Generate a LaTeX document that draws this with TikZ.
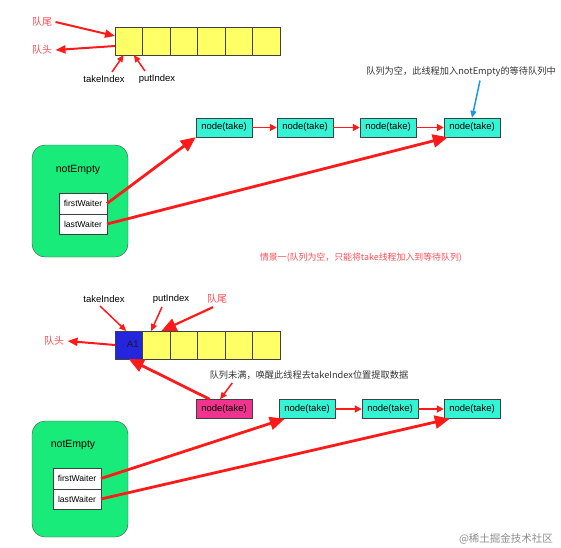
\documentclass[tikz,border=0pt]{standalone}
\usepackage{fontspec}
\setmainfont{Liberation Sans}
\newfontfamily\cjk{Noto Sans CJK SC}
\usetikzlibrary{arrows.meta,positioning}
\definecolor{QYellow}{HTML}{FFFF66}
\definecolor{QCyan}{HTML}{33F5D6}
\definecolor{QPink}{HTML}{F0338F}
\definecolor{QBlue}{HTML}{2525DD}
\definecolor{QGreen}{HTML}{19EB7A}
\definecolor{QRed}{HTML}{FF1A1A}
\definecolor{QLabel}{HTML}{FF4D55}
\definecolor{QSky}{HTML}{1E96F0}

\begin{document}
\begin{tikzpicture}[x=1pt,y=-1pt, every node/.style={font=\fontsize{9.5}{11}\selectfont},
  cell/.style={draw=black!75,fill=QYellow,minimum width=27.5pt,minimum height=28pt,inner sep=0pt,outer sep=0pt},
  takebox/.style={draw=black!75,fill=QCyan,minimum width=56pt,minimum height=19pt,inner sep=0pt},
  waiter/.style={draw=black!75,fill=white,minimum width=48pt,minimum height=20.5pt,inner sep=0pt,outer sep=0pt,font=\fontsize{8.6}{10}\selectfont},
  cond/.style={draw=black!70,fill=QGreen,rounded corners=13pt,minimum width=96pt,inner sep=0pt},
  qlabel/.style={text=QLabel,font=\cjk\fontsize{10}{12}\selectfont},
  note/.style={font=\cjk\fontsize{9.2}{11}\selectfont,text=black!80},
  link/.style={-{Triangle[length=7pt,width=7pt]},QRed,line width=1.8pt},
  bigarrow/.style={-{Triangle[length=15pt,width=13pt]},QRed,line width=2.8pt},
  pointer/.style={-{Triangle[length=7pt,width=6pt]},QRed,line width=1.5pt}]
\useasboundingbox (0,0) rectangle (561,547);

% scene one: empty queue
\node[cell] (c1) at (128.75,41) {};
\node[cell,right=0pt of c1] (c2) {};
\node[cell,right=0pt of c2] (c3) {};
\node[cell,right=0pt of c3] (c4) {};
\node[cell,right=0pt of c4] (c5) {};
\node[cell,right=0pt of c5] (c6) {};
\node[qlabel] (tail1) at (42,22) {队尾};
\node[qlabel] (head1) at (42,50) {队头};
\node (take1lbl) at (104,79) {takeIndex};
\node (put1lbl) at (157,79) {putIndex};
\draw[bigarrow,line width=2pt,-{Triangle[length=10pt,width=8pt]}] (tail1.east) -- (c1.160);
\draw[bigarrow,line width=2pt,-{Triangle[length=10pt,width=8pt]}] (c1.200) -- (head1.east);
\draw[pointer] ([xshift=8pt]take1lbl.north) -- (c1.250);
\draw[pointer] ([xshift=-12pt]put1lbl.north) -- (c1.290);

\node[takebox] (tk1) at (224,127.5) {node(take)};
\node[takebox] (tk2) at (305,127.5) {node(take)};
\node[takebox] (tk3) at (388,127.5) {node(take)};
\node[takebox] (tk4) at (472,127.5) {node(take)};
\draw[link] (tk1) -- (tk2);
\draw[link] (tk2) -- (tk3);
\draw[link] (tk3) -- (tk4);
\node[note] (note1) at (461,72) {队列为空，此线程加入notEmpty的等待队列中};
\draw[-{Triangle[length=7pt,width=6pt]},QSky,line width=1.5pt] ([xshift=19pt]note1.south) -- (tk4.north);

\node[cond,minimum height=112pt] (cond1) at (80,201) {};
\node[font=\fontsize{10.5}{12}\selectfont] (cond1lbl) at (78,170) {notEmpty};
\node[waiter] (fw1) at (83,203.5) {firstWaiter};
\node[waiter,below=0pt of fw1] (lw1) {lastWaiter};
\draw[bigarrow] (fw1.east) -- (tk1.south west);
\draw[bigarrow] (lw1.east) -- ([xshift=4pt]tk4.south west);

\node[text=QLabel,font=\cjk\fontsize{8.9}{10}\selectfont] (scene1) at (361,258) {情景一(队列为空，只能将take线程加入到等待队列)};

% scene two: queue not full
\node[cell,fill=QBlue] (d1) at (128.75,345) {\hspace*{8pt}\raisebox{1.5pt}{\textcolor{black!90}{A1}}};
\node[cell,right=0pt of d1] (d2) {};
\node[cell,right=0pt of d2] (d3) {};
\node[cell,right=0pt of d3] (d4) {};
\node[cell,right=0pt of d4] (d5) {};
\node[cell,right=0pt of d5] (d6) {};
\node (take2lbl) at (104,299) {takeIndex};
\node (put2lbl) at (171,299) {putIndex};
\node[qlabel] (tail2) at (217,299) {队尾};
\node[qlabel] (head2) at (54,341) {队头};
\draw[pointer] ([xshift=-4pt]take2lbl.south) -- (d1.100);
\draw[pointer] ([xshift=-9pt]put2lbl.south) -- (d2.110);
\draw[bigarrow,line width=2.2pt] ([xshift=-4pt]tail2.south) -- (d2.70);
\draw[bigarrow,line width=2pt,-{Triangle[length=10pt,width=8pt]}] (d1.west) -- (head2.east);

\node[takebox,fill=QPink] (pk) at (224,409) {node(take)};
\node[takebox] (tb2) at (307,409) {node(take)};
\node[takebox] (tb3) at (390,409) {node(take)};
\node[takebox] (tb4) at (472,409) {node(take)};
\draw[link] (tb2) -- (tb3);
\draw[link] (tb3) -- (tb4);
\node[note] (note2) at (309,375) {队列未满，唤醒此线程去takeIndex位置提取数据};
\draw[pointer] ([xshift=26pt]note2.south west) -- ([xshift=-4pt]pk.north);
\draw[bigarrow] ([xshift=14pt]pk.north west) -- (d1.south);

\node[cond,minimum height=116pt] (cond2) at (80,479) {};
\node[font=\fontsize{10.5}{12}\selectfont] (cond2lbl) at (73,445) {notEmpty};
\node[waiter] (fw2) at (77,478.5) {firstWaiter};
\node[waiter,below=0pt of fw2] (lw2) {lastWaiter};
\draw[bigarrow] (fw2.east) -- ([xshift=6pt]tb2.south west);
\draw[bigarrow] (lw2.east) -- ([xshift=6pt]tb4.south west);

\node[text=black!45,font=\cjk\fontsize{10.5}{12}\selectfont] (mark) at (506,539) {@稀土掘金技术社区};
\end{tikzpicture}
\end{document}
